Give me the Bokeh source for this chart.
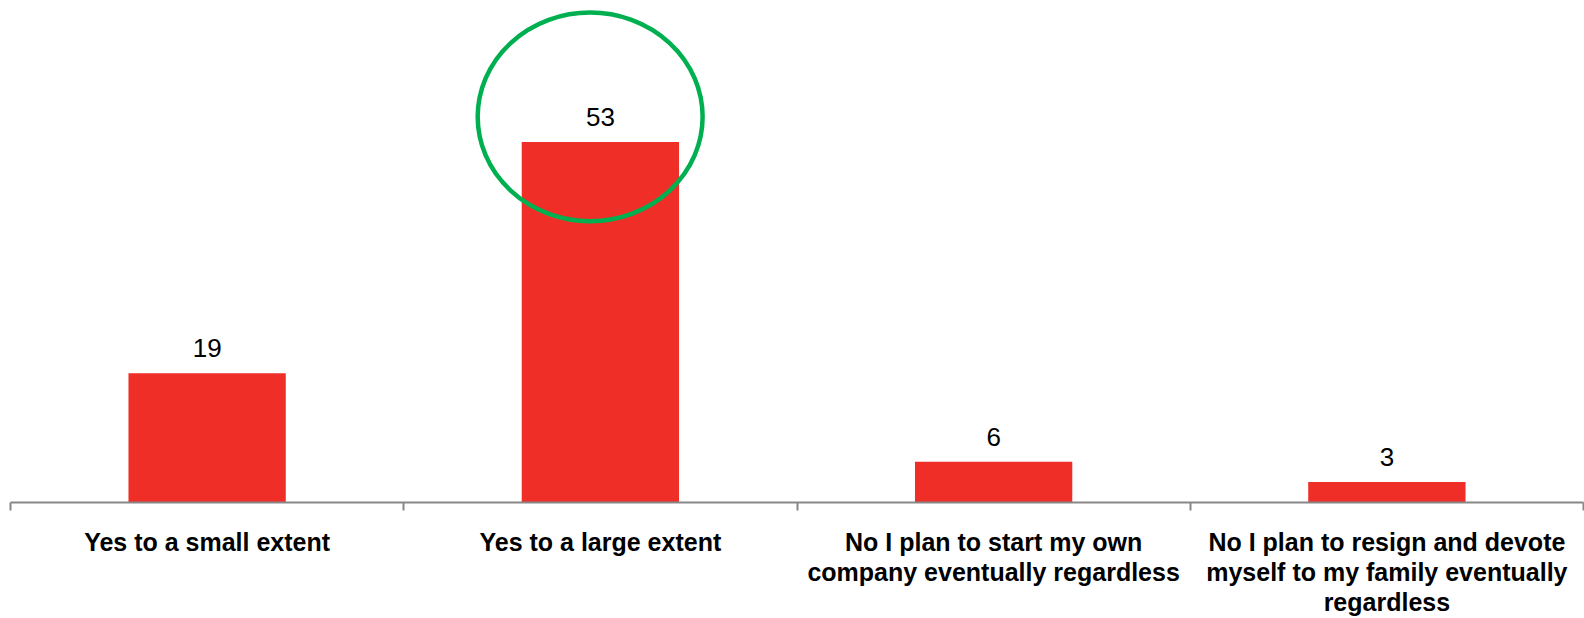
from bokeh.plotting import figure
from bokeh.models import ColumnDataSource, Range1d, FixedTicker, LinearAxis
from bokeh.core.properties import value
from bokeh.embed import file_html
from bokeh.resources import INLINE

# Survey answers and their shares
categories = [
    "Yes to a small extent",
    "Yes to a large extent",
    "No I plan to start my own\ncompany eventually regardless",
    "No I plan to resign and devote\nmyself to my family eventually\nregardless",
]
values = [19, 53, 6, 3]
highlight = 1  # answer circled in green

positions = [i + 0.5 for i in range(len(categories))]
boundaries = list(range(len(categories) + 1))

source = ColumnDataSource(dict(
    x=positions,
    top=values,
    label=[str(v) for v in values],
))

p = figure(
    width=1584, height=618,
    x_range=Range1d(0, len(categories)),
    y_range=Range1d(0, 73.8),
    output_backend="svg",
    toolbar_location=None,
    x_axis_location=None,
    y_axis_location=None,
    min_border_left=10, min_border_right=1,
    min_border_top=0, min_border_bottom=116,
)
p.background_fill_color = "white"
p.border_fill_color = "white"
p.outline_line_color = None
p.xgrid.visible = False
p.ygrid.visible = False

p.vbar(x="x", top="top", width=0.40, bottom=0, source=source,
       fill_color="#EE2E27", line_color=None)

p.text(x="x", y="top", text="label", source=source,
       text_align="center", text_baseline="alphabetic", y_offset=-25,
       text_font=value("Liberation Sans"), text_font_size="26px",
       text_color="black")

# green highlight ring around the leading answer
p.ellipse(x=[positions[highlight] - 0.026], y=[values[highlight] + 3.7],
          width=0.572, height=30.7,
          fill_color=None, line_color="#00B050", line_width=4.5)

# category axis: boundary ticks as minor ticks, labels at centres
xaxis = LinearAxis(
    ticker=FixedTicker(ticks=positions, minor_ticks=boundaries),
    major_label_overrides={pos: lab for pos, lab in zip(positions, categories)},
)
xaxis.axis_line_color = "#878787"
xaxis.axis_line_width = 2
xaxis.major_tick_line_color = None
xaxis.major_tick_out = 0
xaxis.major_tick_in = 0
xaxis.minor_tick_line_color = "#878787"
xaxis.minor_tick_line_width = 2
xaxis.minor_tick_out = 8
xaxis.minor_tick_in = 0
xaxis.major_label_standoff = 17
xaxis.major_label_text_font = "Liberation Sans"
xaxis.major_label_text_font_style = "bold"
xaxis.major_label_text_font_size = "25px"
xaxis.major_label_text_color = "black"
xaxis.major_label_text_line_height = 1.08
p.add_layout(xaxis, "below")

open("out.html", "w").write(file_html(p, INLINE))
